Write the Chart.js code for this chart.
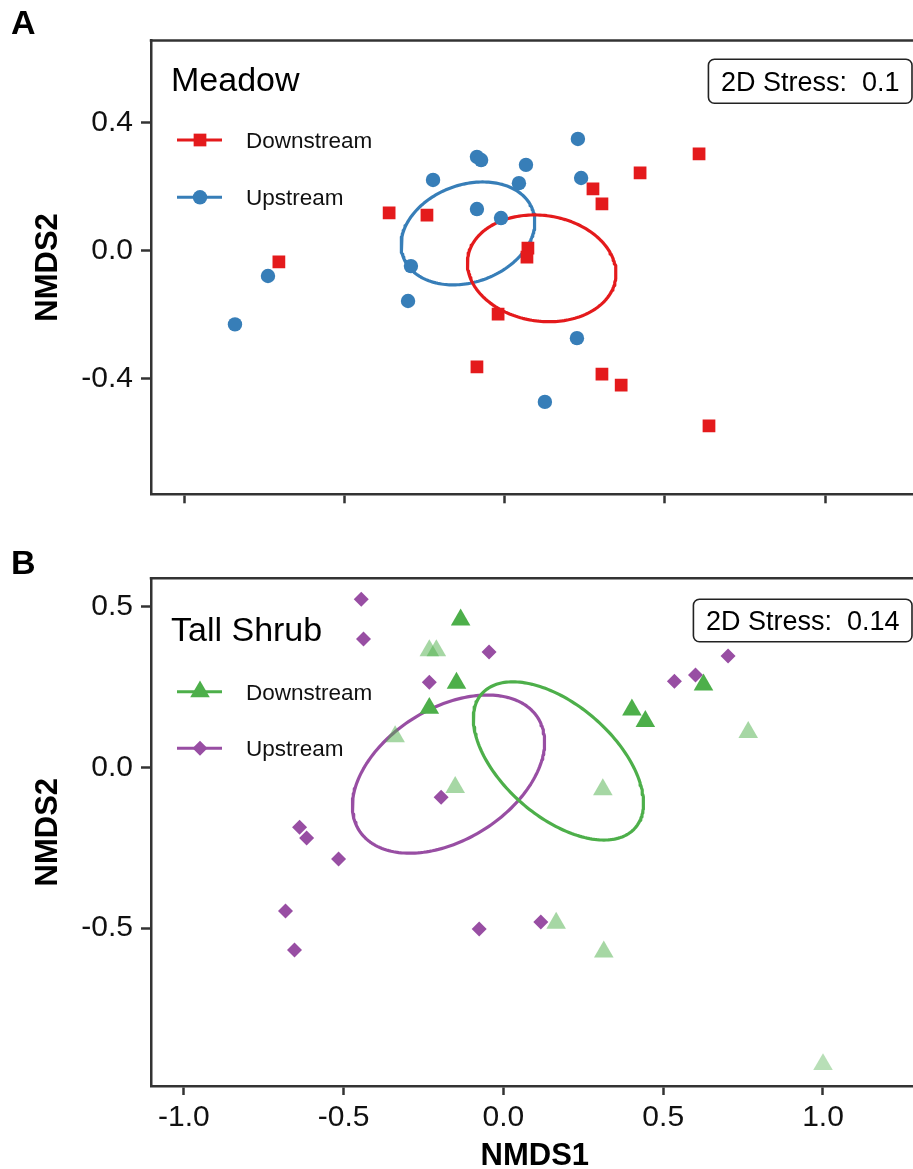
<!DOCTYPE html>
<html><head><meta charset="utf-8">
<script src="https://cdn.jsdelivr.net/npm/chart.js@4.4.0/dist/chart.umd.min.js"></script>
<style>
html,body{margin:0;padding:0;background:#fff;overflow:hidden;width:913px;height:1169px}
#wa{position:absolute;left:0;top:0;width:930px;height:545px}
#wb{position:absolute;left:0;top:545px;width:930px;height:640px}
</style></head><body>
<div id="wa"><canvas id="ca"></canvas></div>
<div id="wb"><canvas id="cb"></canvas></div>
<script>
// ---------- data ----------
const xTicks = [-1.0, -0.5, 0.0, 0.5, 1.0];
const yTicksA = [-0.4, 0.0, 0.4];
const yTicksB = [-0.5, 0.0, 0.5];
const groups = ['Downstream', 'Upstream'];

// Panel A: Meadow
const meadowDownX = [-0.704,-0.360,-0.242,0.073,0.070,0.276,0.304,0.423,0.607,-0.020,-0.086,0.304,0.364,0.638];
const meadowDownY = [-0.035,0.118,0.111,0.008,-0.020,0.193,0.146,0.243,0.302,-0.198,-0.363,-0.385,-0.420,-0.547];
const meadowUpX = [-0.841,-0.738,-0.292,-0.223,-0.301,-0.086,-0.073,0.067,0.045,-0.086,-0.011,0.229,0.239,0.226,0.126];
const meadowUpY = [-0.230,-0.079,-0.048,0.221,-0.157,0.293,0.283,0.268,0.211,0.130,0.102,0.349,0.227,-0.273,-0.472];
// ellipse: centre x, centre y, semi-axis a, semi-axis b, angle (deg)
const meadowDownEllipse = [0.116, -0.055, 0.233, 0.165, -8.2];
const meadowUpEllipse = [-0.114, 0.054, 0.215, 0.152, 20.0];
const meadowStress = 0.1;

// Panel B: Tall Shrub
const shrubDownX = [-0.134,-0.232,-0.210,-0.147,-0.232,-0.339,-0.151,0.402,0.444,0.626,0.766,0.311,0.165,0.314,1.000];
const shrubDownY = [0.459,0.363,0.363,0.262,0.184,0.096,-0.062,0.179,0.143,0.257,0.109,-0.069,-0.484,-0.574,-0.924];
const shrubDownAlpha = [1,0.5,0.5,1,1,0.5,0.5,1,1,1,0.5,0.5,0.5,0.5,0.4];
const shrubUpX = [-0.445,-0.438,-0.232,-0.045,-0.195,-0.638,-0.616,-0.516,-0.682,-0.654,-0.076,0.117,0.535,0.601,0.703];
const shrubUpY = [0.523,0.399,0.265,0.359,-0.093,-0.186,-0.220,-0.285,-0.447,-0.568,-0.503,-0.481,0.268,0.287,0.346];
const shrubDownEllipse = [0.172, 0.020, 0.318, 0.174, -40.8];
const shrubUpEllipse = [-0.172, -0.021, 0.330, 0.205, 31.7];
const shrubStress = 0.14;

// ---------- helpers ----------
const FONT = "'Liberation Sans', Arial, Helvetica, sans-serif";
const AX = '#333333';
const RED = 'rgb(228,26,28)', BLUE = 'rgb(55,126,184)', GREEN = 'rgb(77,175,74)', PURPLE = 'rgb(152,78,163)';

function pts(xs, ys){ return xs.map((x,i)=>({x:x, y:ys[i]})); }
function ellipsePts(e){
  const [cx,cy,a,b,deg] = e; const th = deg*Math.PI/180; const out=[];
  for (let k=0;k<=200;k++){ const t=2*Math.PI*k/200;
    out.push({x: cx + a*Math.cos(t)*Math.cos(th) - b*Math.sin(t)*Math.sin(th),
              y: cy + a*Math.cos(t)*Math.sin(th) + b*Math.sin(t)*Math.cos(th)}); }
  return out;
}
function ellipseDs(e, color){
  return {type:'scatter', data: ellipsePts(e), showLine:true, borderColor:color, borderWidth:3.2,
          borderCapStyle:'round', borderJoinStyle:'round',
          pointRadius:0, fill:false, tension:0, order:2};
}
function pointDs(label, data, color, style, radius, bg){
  return {type:'scatter', label, data, pointStyle:style, pointRadius:radius, pointHoverRadius:radius,
          pointBackgroundColor: bg || color, pointBorderWidth:0, pointBorderColor:'rgba(0,0,0,0)',
          borderColor: color, backgroundColor: color, showLine:false, order:1};
}

const panelPlugin = {
  id: 'panel',
  afterDraw(chart, args, o){
    const ctx = chart.ctx, ca = chart.chartArea;
    ctx.save();
    // top frame line
    ctx.strokeStyle = AX; ctx.lineWidth = 2.5;
    ctx.beginPath(); ctx.moveTo(ca.left - 1.25, ca.top); ctx.lineTo(ca.right + 20, ca.top); ctx.stroke();
    ctx.fillStyle = '#000'; ctx.textBaseline = 'alphabetic'; ctx.textAlign = 'left';
    // panel letter
    ctx.font = `bold 34px ${FONT}`; ctx.fillText(o.letter, 11, o.letterY);
    // panel title
    ctx.font = `34px ${FONT}`; ctx.fillText(o.title, 171, o.titleY);
    // legend
    o.legend.forEach(it => {
      ctx.strokeStyle = it.color; ctx.lineWidth = 3;
      ctx.beginPath(); ctx.moveTo(177, it.y); ctx.lineTo(222, it.y); ctx.stroke();
      ctx.fillStyle = it.color;
      Chart.helpers.drawPoint(ctx, {pointStyle: it.style, radius: it.radius, rotation: 0, borderWidth: 0}, 200, it.y);
      ctx.fillStyle = '#111'; ctx.font = `22.5px ${FONT}`;
      ctx.fillText(it.label, 246, it.y + 8);
    });
    // stress box
    ctx.font = `27px ${FONT}`;
    const txt = '2D Stress:  ' + o.stress;
    const w = ctx.measureText(txt).width;
    const right = 912, pad = 12.5;
    const left = right - w - 2*pad;
    ctx.strokeStyle = '#222'; ctx.lineWidth = 1.6;
    ctx.beginPath(); ctx.roundRect(left, o.boxTop, right-left, o.boxH, 6); ctx.stroke();
    ctx.fillStyle = '#000'; ctx.fillText(txt, left + pad, o.boxTop + o.boxH/2 + 9.5);
    ctx.restore();
  }
};

function makeChart(id, datasets, yTicks, yMin, yMax, xTitle, padTop, xAxisH, annot){
  return new Chart(document.getElementById(id), {
    data: {datasets},
    plugins: [panelPlugin],
    options: {
      responsive: true, maintainAspectRatio: false, animation: false, events: [],
      devicePixelRatio: 1,
      layout: {padding: {left: 0, top: padTop, right: 9, bottom: 0}},
      plugins: {legend: {display:false}, tooltip: {enabled:false}, panel: annot},
      scales: {
        x: {type:'linear', position:'bottom', min: -1.103, max: 1.2995,
            afterBuildTicks: s => { s.ticks = xTicks.map(v => ({value:v})); },
            afterFit: s => { s.height = xAxisH; },
            grid: {display:true, drawOnChartArea:false, drawTicks:true, tickLength:9, tickWidth:2.5, tickColor:AX},
            border: {display:true, color:AX, width:2.5},
            ticks: {display: xTitle, color:'#111', padding:5, font:{family:FONT, size:30},
                    callback: v => v.toFixed(1), maxRotation:0, autoSkip:false},
            title: {display: xTitle, text:'NMDS1', color:'#000', font:{family:FONT, size:31, weight:'bold'}, padding:{top:0, bottom:10}}
        },
        y: {type:'linear', position:'left', min: yMin, max: yMax,
            afterBuildTicks: s => { s.ticks = yTicks.map(v => ({value:v})); },
            afterFit: s => { s.width = 151; },
            grid: {display:true, drawOnChartArea:false, drawTicks:true, tickLength:10, tickWidth:2.5, tickColor:AX},
            border: {display:true, color:AX, width:2.5},
            ticks: {color:'#111', padding:8, font:{family:FONT, size:30}, callback: v => v.toFixed(1), autoSkip:false},
            title: {display:true, text:'NMDS2', color:'#000', font:{family:FONT, size:31, weight:'bold'}, padding:{top:30, bottom:0}}
        }
      }
    }
  });
}

makeChart('ca', [
    pointDs(groups[0], pts(meadowDownX, meadowDownY), RED, 'rect', 9),
    pointDs(groups[1], pts(meadowUpX, meadowUpY), BLUE, 'circle', 7.2),
    ellipseDs(meadowDownEllipse, RED),
    ellipseDs(meadowUpEllipse, BLUE)
  ], yTicksA, -0.7605, 0.6563, false, 40.5, 545-494.3,
  {letter:'A', letterY:33.5, title:'Meadow', titleY:90.5,
   legend:[{label:groups[0], color:RED, style:'rect', radius:9, y:140},
           {label:groups[1], color:BLUE, style:'circle', radius:7.2, y:197.3}],
   stress: meadowStress, boxTop:59.3, boxH:44});

makeChart('cb', [
    pointDs(groups[0], pts(shrubDownX, shrubDownY), GREEN, 'triangle', 11.3,
            shrubDownAlpha.map(a => `rgba(77,175,74,${a})`)),
    pointDs(groups[1], pts(shrubUpX, shrubUpY), PURPLE, 'rectRot', 7.5),
    ellipseDs(shrubDownEllipse, GREEN),
    ellipseDs(shrubUpEllipse, PURPLE)
  ], yTicksB, -0.991, 0.588, true, 33.3, 640-541,
  {letter:'B', letterY:28.5, title:'Tall Shrub', titleY:95.7,
   legend:[{label:groups[0], color:GREEN, style:'triangle', radius:11.3, y:146.7},
           {label:groups[1], color:PURPLE, style:'rectRot', radius:7.5, y:203.3}],
   stress: shrubStress, boxTop:54.3, boxH:42.4});
</script>
</body></html>
